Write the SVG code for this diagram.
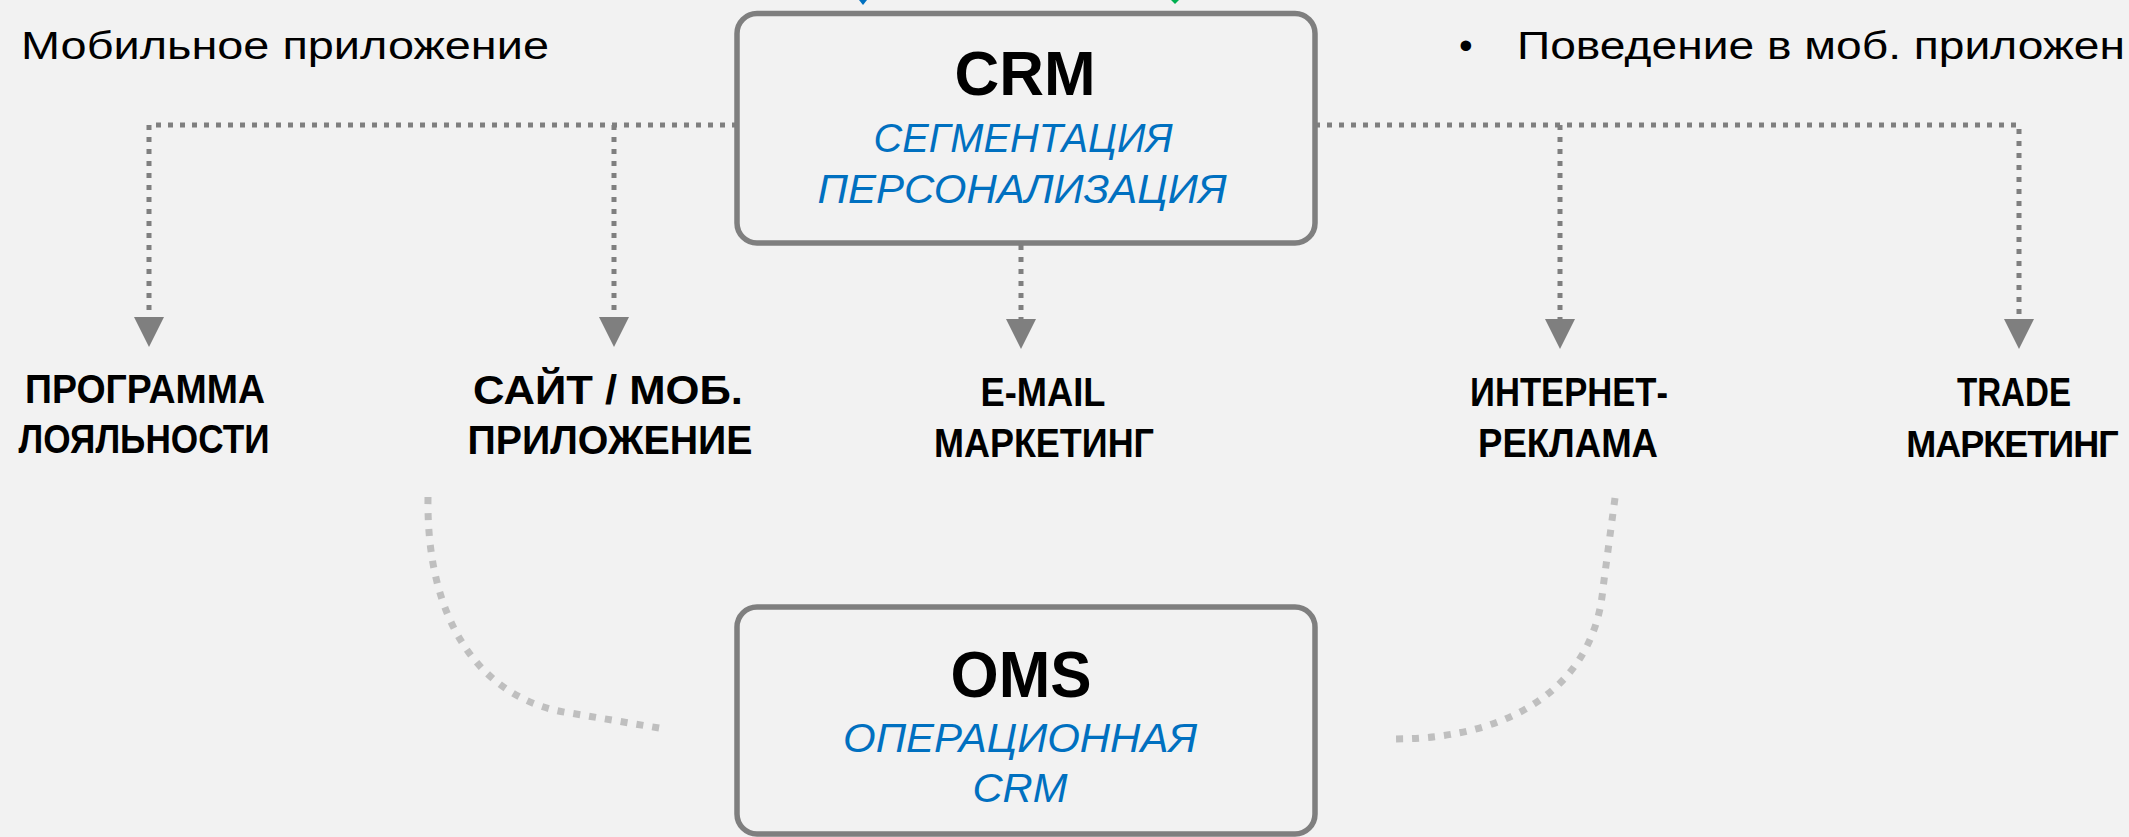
<svg xmlns="http://www.w3.org/2000/svg" width="2129" height="837" viewBox="0 0 2129 837">
<defs>
<style>
.bg{fill:#f2f2f2}
.box{fill:#f2f2f2;stroke:#7f7f7f;stroke-width:5.5}
.conn{fill:none;stroke:#7f7f7f;stroke-width:5;stroke-dasharray:5 7}
.arc{fill:none;stroke:#bfbfbf;stroke-width:7;stroke-dasharray:7 9}
.title{font-family:"Liberation Sans",Arial,sans-serif;font-weight:bold;fill:#000;text-anchor:middle}
.sub{font-family:"Liberation Sans",Arial,sans-serif;font-style:italic;fill:#0070c0;text-anchor:middle;font-size:41px}
.lbl{font-family:"Liberation Sans",Arial,sans-serif;font-weight:bold;fill:#000;text-anchor:middle;font-size:40px}
.plain{font-family:"Liberation Sans",Arial,sans-serif;fill:#000;font-size:39px}
</style>
<marker id="ah" viewBox="0 0 30 30" refX="0" refY="15" markerWidth="30" markerHeight="30" markerUnits="userSpaceOnUse" orient="auto">
<path d="M0,0 L30,15 L0,30 z" fill="#7f7f7f"/>
</marker>
</defs>
<rect class="bg" x="0" y="0" width="2129" height="837"/>

<g id="top-texts">
<text class="plain" x="21" y="59" textLength="528" lengthAdjust="spacingAndGlyphs">Мобильное приложение</text>
<text class="plain" x="1459" y="59">•</text>
<text class="plain" x="1517" y="59" textLength="608" lengthAdjust="spacingAndGlyphs">Поведение в моб. приложен</text>
</g>

<g id="incoming-tips">
<path d="M859,0 L867,0 L863,5 z" fill="#0070c0"/>
<path d="M1171,0 L1179,0 L1175,4 z" fill="#00b050"/>
</g>

<g id="connectors">
<path class="conn" d="M737,125 L149,125 L149,317" marker-end="url(#ah)"/>
<path class="conn" d="M614,125 L614,317" marker-end="url(#ah)"/>
<path class="conn" d="M1021,245 L1021,319" marker-end="url(#ah)"/>
<path class="conn" d="M1315,125 L2019,125 L2019,319" marker-end="url(#ah)"/>
<path class="conn" d="M1560,125 L1560,319" marker-end="url(#ah)"/>
<path class="arc" d="M428,497 C426,620 480,700 570,713 L665,729"/>
<path class="arc" d="M1615,498 L1603,588 C1595,680 1520,739 1393,739"/>
</g>

<g id="crm">
<rect class="box" x="737" y="13.5" width="578" height="229.5" rx="20"/>
<text class="title" x="1025" y="95" font-size="63" textLength="141" lengthAdjust="spacingAndGlyphs">CRM</text>
<text class="sub" x="1023" y="152" textLength="299" lengthAdjust="spacingAndGlyphs">СЕГМЕНТАЦИЯ</text>
<text class="sub" x="1022" y="203" textLength="409" lengthAdjust="spacingAndGlyphs">ПЕРСОНАЛИЗАЦИЯ</text>
</g>

<g id="oms">
<rect class="box" x="737" y="607" width="578" height="227" rx="20"/>
<text class="title" x="1021" y="697" font-size="65" textLength="141" lengthAdjust="spacingAndGlyphs">OMS</text>
<text class="sub" x="1020" y="752" textLength="354" lengthAdjust="spacingAndGlyphs">ОПЕРАЦИОННАЯ</text>
<text class="sub" x="1020" y="802" textLength="95" lengthAdjust="spacingAndGlyphs">CRM</text>
</g>

<g id="loyalty">
<text class="lbl" x="145" y="403" textLength="240" lengthAdjust="spacingAndGlyphs">ПРОГРАММА</text>
<text class="lbl" x="144" y="453" textLength="251" lengthAdjust="spacingAndGlyphs">ЛОЯЛЬНОСТИ</text>
</g>
<g id="site">
<text class="lbl" x="608" y="404" textLength="270" lengthAdjust="spacingAndGlyphs">САЙТ / МОБ.</text>
<text class="lbl" x="610" y="454" textLength="285" lengthAdjust="spacingAndGlyphs">ПРИЛОЖЕНИЕ</text>
</g>
<g id="email">
<text class="lbl" x="1043" y="406" textLength="125" lengthAdjust="spacingAndGlyphs">E-MAIL</text>
<text class="lbl" x="1044" y="457" textLength="220" lengthAdjust="spacingAndGlyphs">МАРКЕТИНГ</text>
</g>
<g id="internet">
<text class="lbl" x="1569" y="406" textLength="198" lengthAdjust="spacingAndGlyphs">ИНТЕРНЕТ-</text>
<text class="lbl" x="1568" y="457" textLength="180" lengthAdjust="spacingAndGlyphs">РЕКЛАМА</text>
</g>
<g id="trade">
<text class="lbl" x="2014" y="406" textLength="114" lengthAdjust="spacingAndGlyphs">TRADE</text>
<text class="lbl" x="2012" y="457" style="font-size:36px;letter-spacing:-1px">МАРКЕТИНГ</text>
</g>
</svg>
